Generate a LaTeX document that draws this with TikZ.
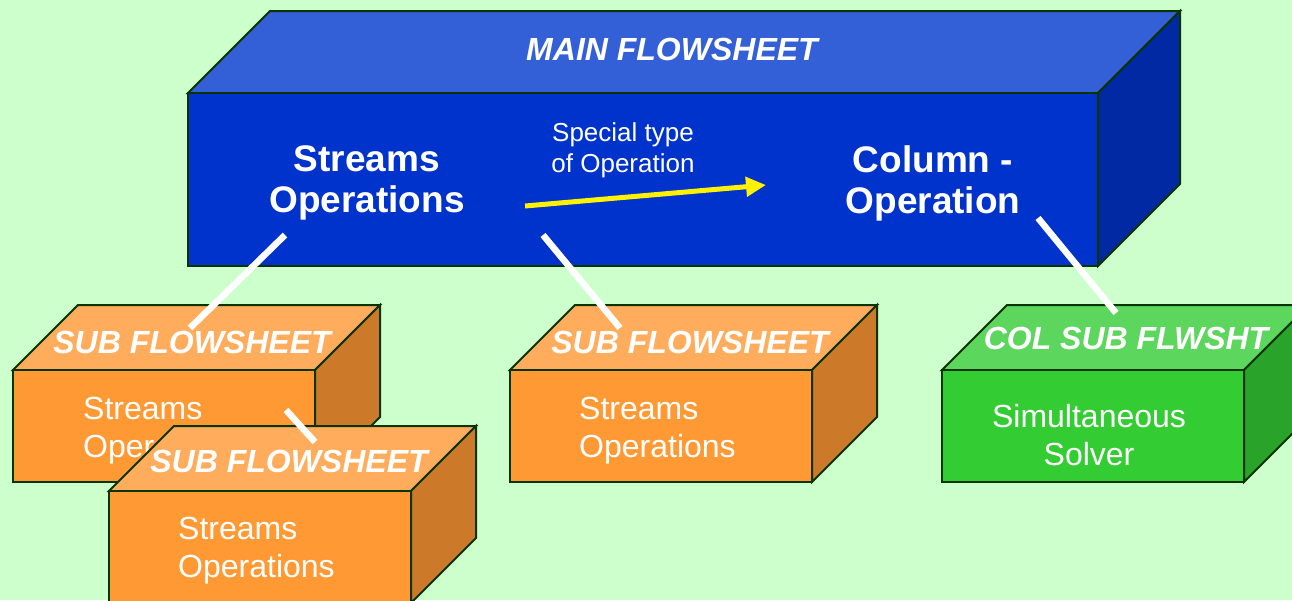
\documentclass[tikz,border=0pt]{standalone}
\usepackage{fontspec}
\setmainfont{Liberation Sans}
\usetikzlibrary{arrows.meta}

\definecolor{bgmint}{RGB}{204,255,204}
\definecolor{edgegreen}{RGB}{10,51,0}
\definecolor{mainfront}{RGB}{0,51,204}
\definecolor{maintop}{RGB}{51,96,214}
\definecolor{mainside}{RGB}{0,41,163}
\definecolor{subfront}{RGB}{255,153,51}
\definecolor{subtop}{RGB}{255,173,92}
\definecolor{subside}{RGB}{204,122,41}
\definecolor{colfront}{RGB}{51,204,51}
\definecolor{coltop}{RGB}{92,214,92}
\definecolor{colside}{RGB}{41,163,41}

% box: x, y (front top left), width, height, depth, front, top, side
\newcommand{\flowbox}[8]{%
    \draw[box_edge, fill=#7] (#1,#2) -- ++(#5,-#5) -- ++(#3,0) -- ++(-#5,#5) -- cycle;
    \draw[box_edge, fill=#8] (#1+#3,#2) -- ++(#5,-#5) -- ++(0,#4) -- ++(-#5,#5) -- cycle;
    \draw[box_edge, fill=#6] (#1,#2) rectangle ++(#3,#4);
}

\begin{document}
\begin{tikzpicture}[
    x=1pt, y=-1pt,
    box_edge/.style={draw=edgegreen, line width=2pt, line join=miter},
    link/.style={draw=white, line width=6.5pt},
    title_text/.style={text=white, inner sep=0pt, font=\fontsize{32}{36}\selectfont\bfseries\itshape},
    body_text/.style={text=white, inner sep=0pt, align=left, font=\fontsize{32}{38}\selectfont},
    main_text/.style={text=white, inner sep=0pt, align=center, font=\fontsize{37}{41}\selectfont\bfseries}
]
\fill[bgmint] (0,0) rectangle (1292,600);
\clip (0,0) rectangle (1292,600);

% main flowsheet
\flowbox{188}{93}{910}{173}{82}{mainfront}{maintop}{mainside}
\node[title_text] (mainTitle) at (672,49) {MAIN FLOWSHEET};
\node[main_text] (streams) at (367,183) {Streams\\Operations};
\node[main_text] (column) at (933,183) {Column -\\Operation};
\node[text=white, inner sep=0pt, align=center, font=\fontsize{26}{31}\selectfont] (special) at (623,150) {Special type\\of Operation};
\coordinate (arrowStart) at (525,206);
\coordinate (arrowEnd) at (766,185);
\draw[draw=yellow, line width=5pt, -{Triangle[length=20pt, width=19pt]}] (arrowStart) -- (arrowEnd);

% sub flowsheet 1
\flowbox{13}{370}{302}{112}{65}{subfront}{subtop}{subside}
\node[title_text] (sub1Title) at (192,342) {SUB FLOWSHEET};
\node[body_text, anchor=west] (sub1Body) at (83,431) {Streams\\Operations};

% sub flowsheet 2 (nested)
\flowbox{109}{491}{302}{112}{65}{subfront}{subtop}{subside}
\node[title_text] (sub2Title) at (289,461) {SUB FLOWSHEET};
\node[body_text, anchor=west] (sub2Body) at (178,551) {Streams\\Operations};
\coordinate (sub1Out) at (286,410);
\coordinate (sub2In) at (315,442);
\draw[link] (sub1Out) -- (sub2In);

% sub flowsheet 3
\flowbox{510}{370}{302}{112}{65}{subfront}{subtop}{subside}
\node[title_text] (sub3Title) at (690,342) {SUB FLOWSHEET};
\node[body_text, anchor=west] (sub3Body) at (579,431) {Streams\\Operations};

% column sub flowsheet
\flowbox{942}{370}{302}{112}{65}{colfront}{coltop}{colside}
\node[title_text] (colTitle) at (1126,338) {COL SUB FLWSHT};
\node[body_text, align=center] (colBody) at (1089,435) {Simultaneous\\Solver};

% links to sub flowsheets
\coordinate (streamsOut) at (285,235);
\coordinate (sub1In) at (190,328);
\coordinate (specialOut) at (543,235);
\coordinate (sub3In) at (620,328);
\coordinate (columnOut) at (1038,218);
\coordinate (colIn) at (1116,313);
\draw[link] (streamsOut) -- (sub1In);
\draw[link] (specialOut) -- (sub3In);
\draw[link] (columnOut) -- (colIn);
\end{tikzpicture}
\end{document}
